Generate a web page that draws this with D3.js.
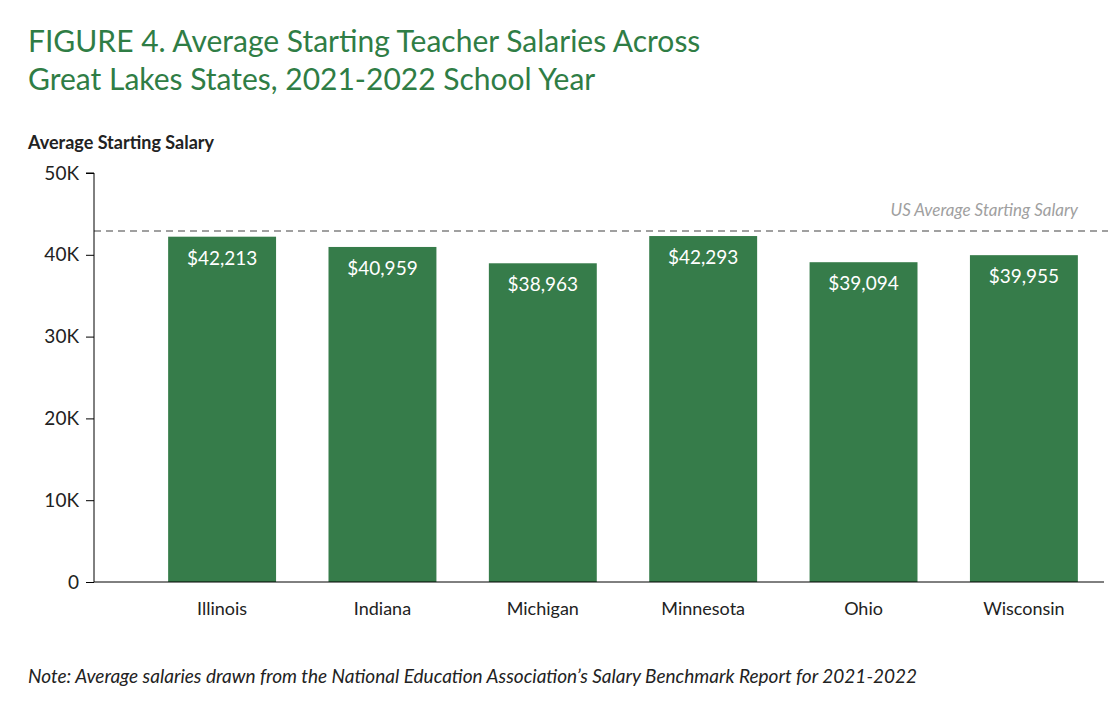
<!DOCTYPE html>
<html><head><meta charset="utf-8">
<script src="https://cdn.jsdelivr.net/npm/d3@7"></script>
<style>body{margin:0;background:#fff}text{font-family:Lato,"Open Sans",sans-serif}</style>
</head><body>
<svg id="svg1" width="1118" height="706"></svg>
<script>
var states = ['Illinois', 'Indiana', 'Michigan', 'Minnesota', 'Ohio', 'Wisconsin'];
var salaries = [42213, 40959, 38963, 42293, 39094, 39955];
var usAverage = 42900;
var yTicks = [0, 10000, 20000, 30000, 40000, 50000];
var yTickLabels = ['0', '10K', '20K', '30K', '40K', '50K'];

var green = '#367c4a';
var svg = d3.select('svg');

var x = d3.scaleBand().domain(states).range([142, 1104]).paddingInner(0.327).paddingOuter(0.163);
var y = d3.scaleLinear().domain([0, 50000]).range([582, 173]);

// title
svg.append('text').attr('x', 28).attr('y', 52).attr('fill', '#2f7d45').attr('font-size', 30)
    .text('FIGURE 4. Average Starting Teacher Salaries Across');
svg.append('text').attr('x', 28).attr('y', 90).attr('fill', '#2f7d45').attr('font-size', 30)
    .text('Great Lakes States, 2021-2022 School Year');
svg.append('text').attr('x', 28).attr('y', 149).attr('font-size', 18).attr('font-weight', 'bold')
    .attr('fill', '#222').text('Average Starting Salary');

// bars
svg.selectAll('rect.bar').data(states).enter().append('rect')
    .attr('x', function(d){ return x(d); })
    .attr('y', function(d, i){ return y(salaries[i]); })
    .attr('width', x.bandwidth())
    .attr('height', function(d, i){ return 582 - y(salaries[i]); })
    .attr('fill', green);

svg.selectAll('text.val').data(states).enter().append('text')
    .attr('x', function(d){ return x(d) + x.bandwidth()/2; })
    .attr('y', function(d, i){ return y(salaries[i]) + 28; })
    .attr('text-anchor', 'middle').attr('fill', '#fff').attr('font-size', 19)
    .text(function(d, i){ return '$' + d3.format(',')(salaries[i]); });

// US average
svg.append('line').attr('x1', 94).attr('x2', 1108).attr('y1', y(usAverage)).attr('y2', y(usAverage))
    .attr('stroke', '#a0a0a0').attr('stroke-width', 2).attr('stroke-dasharray', '7,5');
svg.append('text').attr('x', 1078).attr('y', y(usAverage) - 15).attr('text-anchor', 'end')
    .attr('font-style', 'italic').attr('font-size', 17).attr('fill', '#a0a0a0')
    .text('US Average Starting Salary');

// y axis
var yAxis = svg.append('g').attr('transform', 'translate(94,0)')
    .call(d3.axisLeft(y).tickValues(yTicks).tickSize(8).tickFormat(function(d, i){ return yTickLabels[i]; }));
yAxis.select('.domain').attr('d', 'M-8,173H0V582');
yAxis.selectAll('text').attr('font-size', 19).attr('fill', '#222').attr('dx', -4);

// x axis
var xAxis = svg.append('g').attr('transform', 'translate(0,582)')
    .call(d3.axisBottom(x).tickSize(0).tickPadding(20));
xAxis.select('.domain').attr('d', 'M94,0H1104');
xAxis.selectAll('text').attr('font-size', 18).attr('fill', '#222');

svg.append('text').attr('x', 28).attr('y', 683).attr('font-style', 'italic').attr('font-size', 19)
    .attr('fill', '#222')
    .text('Note: Average salaries drawn from the National Education Association\u2019s Salary Benchmark Report for 2021-2022');
</script>
</body></html>
